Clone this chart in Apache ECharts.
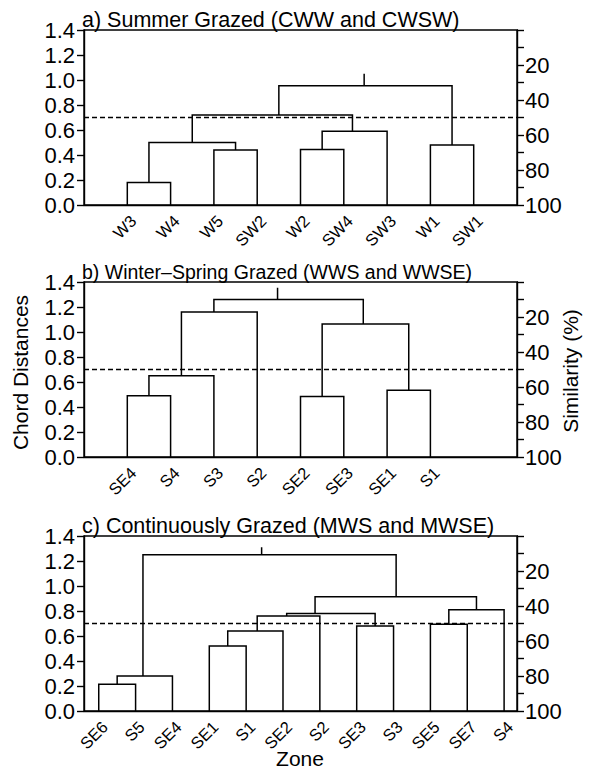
<!DOCTYPE html>
<html>
<head>
<meta charset="utf-8">
<script src="https://cdn.jsdelivr.net/npm/echarts@6/dist/echarts.min.js"></script>
<style>
html, body { margin: 0; padding: 0; background: #fff; }
#chart { width: 596px; height: 771px; }
</style>
</head>
<body>
<div id="chart"></div>
<script>
// a) Summer Grazed
const leavesA = ['W3', 'W4', 'W5', 'SW2', 'W2', 'SW4', 'SW3', 'W1', 'SW1']
const linksA = [['W3', 'W4'], ['W5', 'SW2'], [0, 1], ['W2', 'SW4'], [3, 'SW3'], [2, 4], ['W1', 'SW1'], [5, 6]]
const heightsA = [0.18, 0.44, 0.50, 0.445, 0.59, 0.72, 0.48, 0.955]
const nodePosA = [1.5, 3.5, 2.5, 5.5, 6.2, 4.5, 8.5, 6.47]
const stemTopA = 1.05

// b) Winter-Spring Grazed
const leavesB = ['SE4', 'S4', 'S3', 'S2', 'SE2', 'SE3', 'SE1', 'S1']
const linksB = [['SE4', 'S4'], [0, 'S3'], [1, 'S2'], ['SE2', 'SE3'], ['SE1', 'S1'], [3, 4], [2, 5]]
const heightsB = [0.49, 0.65, 1.16, 0.485, 0.535, 1.065, 1.26]
const nodePosB = [1.5, 2.25, 3.0, 5.5, 7.5, 6.45, 4.47]
const stemTopB = 1.355

// c) Continuously Grazed
const leavesC = ['SE6', 'S5', 'SE4', 'SE1', 'S1', 'SE2', 'S2', 'SE3', 'S3', 'SE5', 'SE7', 'S4']
const linksC = [['SE6', 'S5'], [0, 'SE4'], ['SE1', 'S1'], [2, 'SE2'], [3, 'S2'], ['SE3', 'S3'], [4, 5], ['SE5', 'SE7'], [7, 'S4'], [6, 8], [1, 9]]
const heightsC = [0.215, 0.28, 0.52, 0.64, 0.76, 0.68, 0.78, 0.695, 0.81, 0.915, 1.25]
const nodePosC = [1.5, 2.2, 4.5, 5.3, 6.1, 8.5, 6.87, 10.5, 11.25, 9.07, 5.42]
const stemTopC = 1.31

const cutHeight = 0.7 // 50 % similarity
const distTicks = [0, 0.2, 0.4, 0.6, 0.8, 1.0, 1.2, 1.4]
const simLabels = [20, 40, 60, 80, 100]

const FONT = "'Liberation Sans', Arial, sans-serif"

const panels = [
  { title: 'a) Summer Grazed (CWW and CWSW)', leaves: leavesA, links: linksA, heights: heightsA, nodePos: nodePosA, stemTop: stemTopA, xMin: 0, xMax: 10, top: 30, titleTop: 9, titleSize: 21.5 },
  { title: 'b) Winter\u2013Spring Grazed (WWS and WWSE)', leaves: leavesB, links: linksB, heights: heightsB, nodePos: nodePosB, stemTop: stemTopB, xMin: 0, xMax: 10, top: 282, titleTop: 262, titleSize: 19.5 },
  { title: 'c) Continuously Grazed (MWS and MWSE)', leaves: leavesC, links: linksC, heights: heightsC, nodePos: nodePosC, stemTop: stemTopC, xMin: 0.6, xMax: 12.35, top: 536, titleTop: 515, titleSize: 21.5 }
]

// build the polyline of every merge: child -> up to merge height -> across -> down to other child
const buildSegments = (p) => {
  const pos = (c) => typeof c === 'string' ? [p.leaves.indexOf(c) + 1, 0] : [p.nodePos[c], p.heights[c]]
  const segs = p.links.map((lk, j) => {
    const [xa, ya] = pos(lk[0])
    const [xb, yb] = pos(lk[1])
    const h = p.heights[j]
    return [[xa, ya], [xa, h], [xb, h], [xb, yb]]
  })
  const last = p.links.length - 1
  segs.push([[p.nodePos[last], p.heights[last]], [p.nodePos[last], p.stemTop]])
  return segs
}

const chart = echarts.init(document.getElementById('chart'), null, { renderer: 'svg' })

const option = {
  animation: false,
  textStyle: { fontFamily: FONT, color: '#000' },
  title: panels.map(p => ({
    text: p.title,
    left: 82,
    top: p.titleTop,
    padding: 0,
    textStyle: { fontFamily: FONT, fontSize: p.titleSize, fontWeight: 'normal', color: '#000' }
  })),
  grid: panels.map(p => ({
    left: 84, right: 79, top: p.top, height: 175,
    show: true, borderColor: '#000', borderWidth: 1.4, backgroundColor: 'transparent'
  })),
  xAxis: panels.map((p, i) => ({
    type: 'value', gridIndex: i, min: p.xMin, max: p.xMax, interval: 0.2,
    axisLine: { lineStyle: { color: '#000', width: 1.4 } },
    axisTick: { show: false },
    splitLine: { show: false },
    axisLabel: {
      rotate: 45, fontSize: 16.5, color: '#000', margin: 7, fontFamily: FONT,
      verticalAlign: 'top',
      showMinLabel: false, showMaxLabel: false,
      formatter: (v) => {
        const k = Math.round(v)
        return Math.abs(v - k) < 1e-6 && p.leaves[k - 1] ? p.leaves[k - 1] : ''
      }
    }
  })),
  yAxis: panels.flatMap((p, i) => [
    {
      type: 'value', gridIndex: i, position: 'left', min: 0, max: 1.4, interval: 0.2,
      axisLine: { show: true, lineStyle: { color: '#000', width: 1.4 } },
      axisTick: { show: true, length: 7, lineStyle: { color: '#000', width: 1.4 } },
      splitLine: { show: false },
      axisLabel: {
        fontSize: 22, color: '#000', margin: 9, fontFamily: FONT,
        formatter: (v) => distTicks.some(t => Math.abs(t - v) < 1e-6) ? v.toFixed(1) : ''
      }
    },
    {
      type: 'value', gridIndex: i, position: 'right', min: 0, max: 100, interval: 10, inverse: true,
      axisLine: { show: true, lineStyle: { color: '#000', width: 1.4 } },
      axisTick: { show: true, length: 7, lineStyle: { color: '#000', width: 1.4 } },
      splitLine: { show: false },
      axisLabel: {
        fontSize: 22, color: '#000', margin: 8, fontFamily: FONT,
        formatter: (v) => simLabels.includes(Math.round(v)) && Math.abs(v - Math.round(v)) < 1e-6 ? String(Math.round(v)) : ''
      }
    }
  ]),
  series: panels.flatMap((p, i) => [
    {
      type: 'lines',
      coordinateSystem: 'cartesian2d',
      xAxisIndex: i,
      yAxisIndex: i * 2,
      polyline: true,
      silent: true,
      lineStyle: { color: '#000', width: 1.5, opacity: 1, curveness: 0 },
      data: buildSegments(p).map(c => ({ coords: c }))
    },
    {
      type: 'line',
      xAxisIndex: i,
      yAxisIndex: i * 2,
      symbol: 'none',
      silent: true,
      lineStyle: { color: '#000', width: 1.3, type: [5, 3] },
      data: [[p.xMin, cutHeight], [p.xMax, cutHeight]]
    }
  ]),
  graphic: [
    {
      type: 'text', x: 20.5, y: 372.5, rotation: Math.PI / 2,
      style: { text: 'Chord Distances', fontSize: 21, fontFamily: FONT, fill: '#000', align: 'center', verticalAlign: 'middle', textAlign: 'center', textVerticalAlign: 'middle' }
    },
    {
      type: 'text', x: 570.5, y: 371, rotation: Math.PI / 2,
      style: { text: 'Similarity (%)', fontSize: 21, fontFamily: FONT, fill: '#000', align: 'center', verticalAlign: 'middle', textAlign: 'center', textVerticalAlign: 'middle' }
    },
    {
      type: 'text', x: 300, y: 758,
      style: { text: 'Zone', fontSize: 21, fontFamily: FONT, fill: '#000', align: 'center', verticalAlign: 'middle', textAlign: 'center', textVerticalAlign: 'middle' }
    }
  ]
}

chart.setOption(option)
</script>
</body>
</html>
